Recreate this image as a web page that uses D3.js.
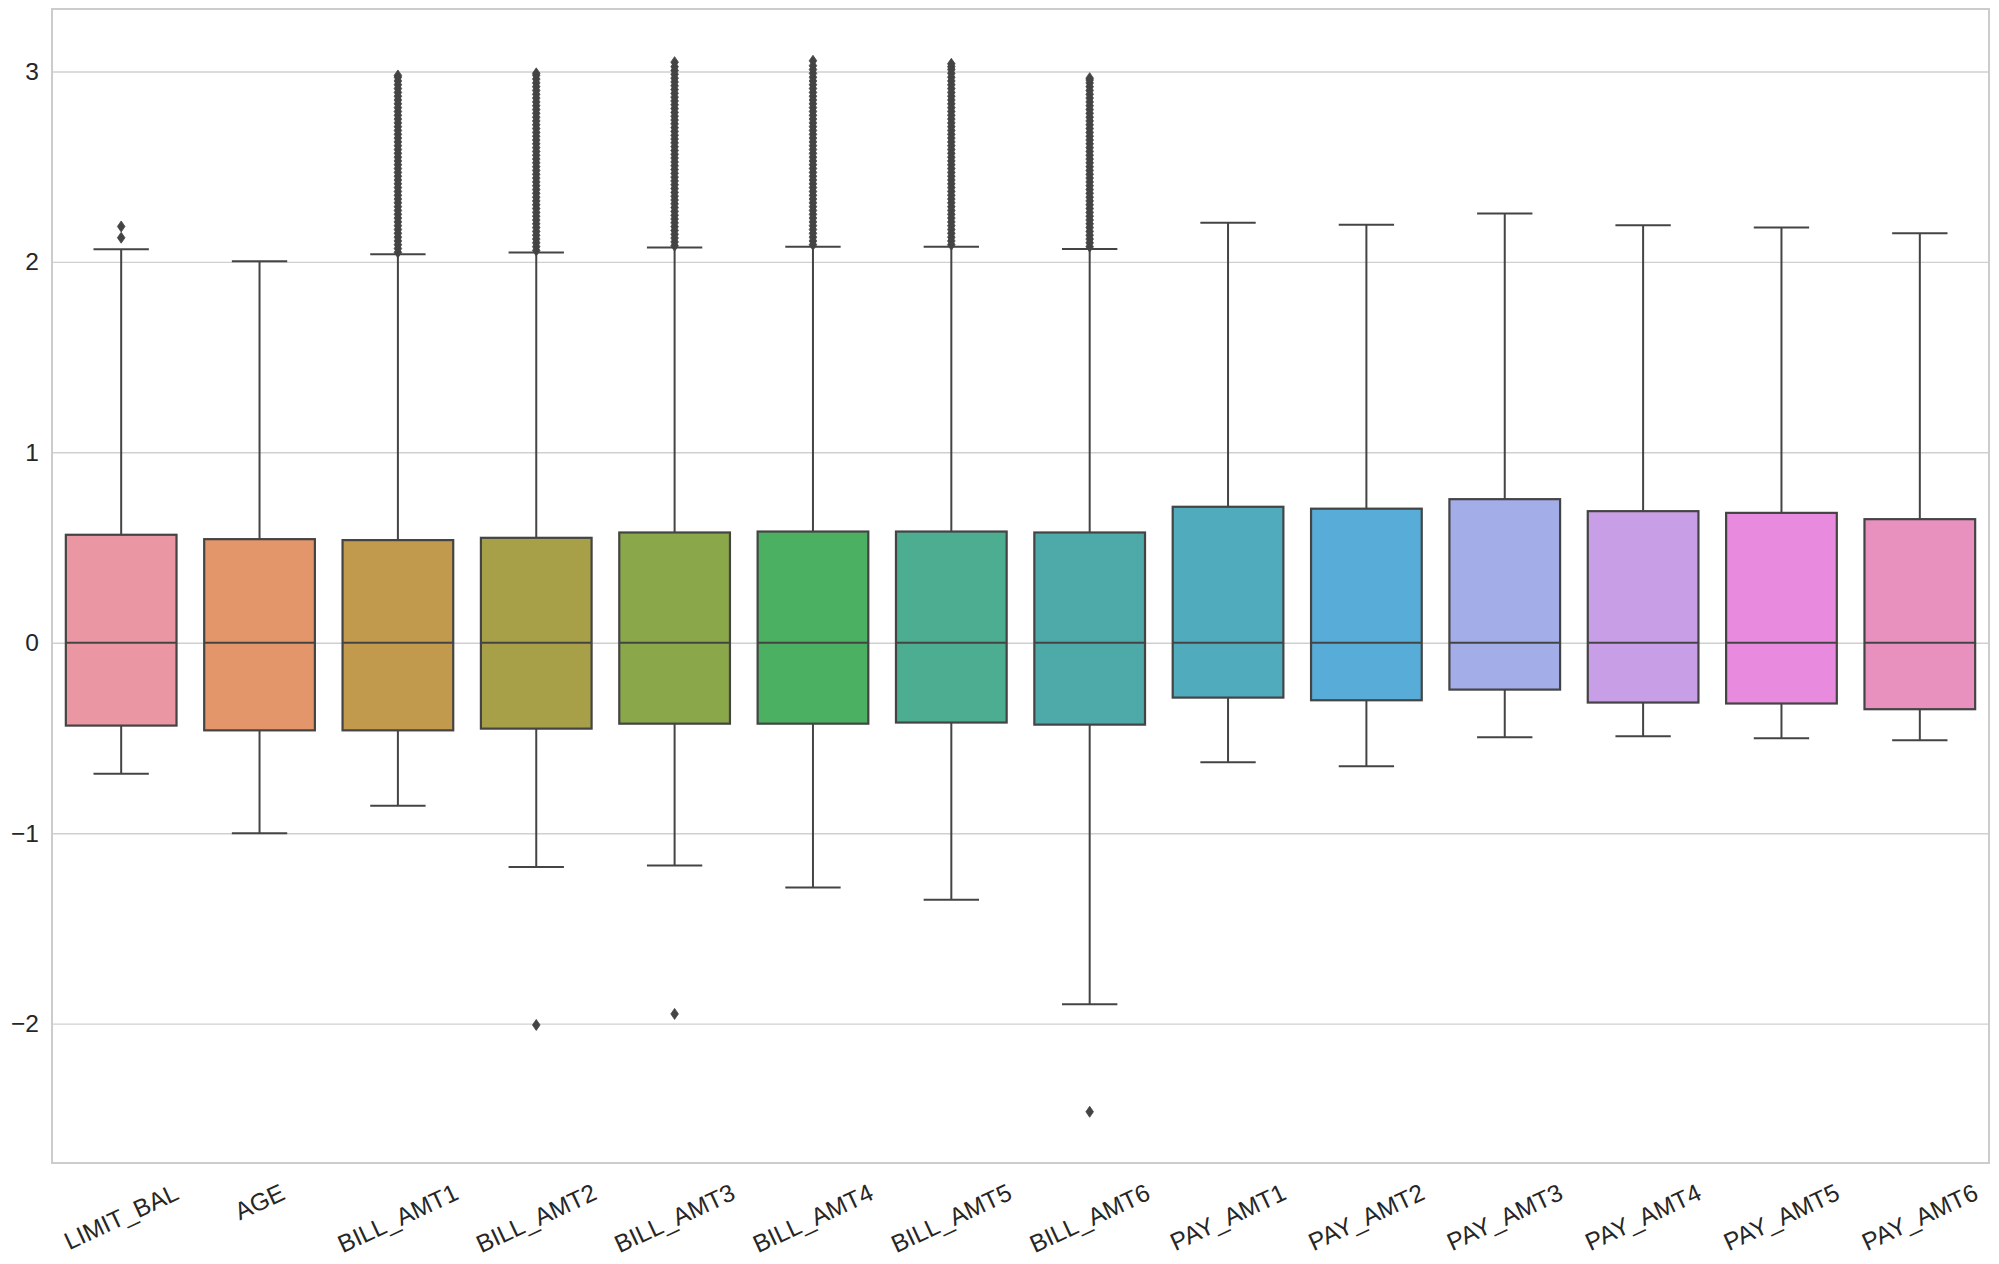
<!DOCTYPE html>
<html>
<head>
<meta charset="utf-8">
<script src="https://cdn.jsdelivr.net/npm/d3@7/dist/d3.min.js"></script>
<style>
  html, body { margin: 0; padding: 0; background: #ffffff; }
  svg { display: block; }
  text { font-family: "Liberation Sans", Arial, sans-serif; fill: #262626; }
</style>
</head>
<body>
<svg id="chart" width="1999" height="1264"></svg>
<script>
// ---------------- data ----------------
const categories = ["LIMIT_BAL", "AGE", "BILL_AMT1", "BILL_AMT2", "BILL_AMT3", "BILL_AMT4", "BILL_AMT5",
  "BILL_AMT6", "PAY_AMT1", "PAY_AMT2", "PAY_AMT3", "PAY_AMT4", "PAY_AMT5", "PAY_AMT6"];
const whiskerLow  = [-0.688, -1.000, -0.856, -1.177, -1.170, -1.285, -1.350, -1.899, -0.628, -0.649, -0.496, -0.491, -0.502, -0.512];
const q1          = [-0.435, -0.460, -0.460, -0.451, -0.425, -0.425, -0.419, -0.430, -0.288, -0.302, -0.246, -0.314, -0.319, -0.349];
const medians     = [0, 0, 0, 0, 0, 0, 0, 0, 0, 0, 0, 0, 0, 0];
const q3          = [0.567, 0.544, 0.539, 0.551, 0.579, 0.584, 0.584, 0.579, 0.714, 0.704, 0.754, 0.691, 0.682, 0.649];
const whiskerHigh = [2.066, 2.003, 2.040, 2.049, 2.075, 2.080, 2.080, 2.068, 2.206, 2.195, 2.254, 2.192, 2.181, 2.150];
const outliers = [
  [2.127, 2.186],
  [],
  [2.05, 2.07, 2.09, 2.11, 2.13, 2.15, 2.17, 2.19, 2.21, 2.23, 2.25, 2.27, 2.29, 2.31, 2.33, 2.35,
   2.37, 2.39, 2.41, 2.43, 2.45, 2.47, 2.49, 2.51, 2.53, 2.55, 2.57, 2.59, 2.61, 2.63, 2.65, 2.67,
   2.69, 2.71, 2.73, 2.75, 2.77, 2.79, 2.81, 2.83, 2.85, 2.87, 2.89, 2.91, 2.93, 2.95, 2.97, 2.979],
  [-2.007, 2.06, 2.08, 2.10, 2.12, 2.14, 2.16, 2.18, 2.20, 2.22, 2.24, 2.26, 2.28, 2.30, 2.32, 2.34,
   2.36, 2.38, 2.40, 2.42, 2.44, 2.46, 2.48, 2.50, 2.52, 2.54, 2.56, 2.58, 2.60, 2.62, 2.64, 2.66,
   2.68, 2.70, 2.72, 2.74, 2.76, 2.78, 2.80, 2.82, 2.84, 2.86, 2.88, 2.90, 2.92, 2.94, 2.96, 2.98, 2.99],
  [-1.949, 2.085, 2.105, 2.125, 2.145, 2.165, 2.185, 2.205, 2.225, 2.245, 2.265, 2.285, 2.305, 2.325,
   2.345, 2.365, 2.385, 2.405, 2.425, 2.445, 2.465, 2.485, 2.505, 2.525, 2.545, 2.565, 2.585, 2.605,
   2.625, 2.645, 2.665, 2.685, 2.705, 2.725, 2.745, 2.765, 2.785, 2.805, 2.825, 2.845, 2.865, 2.885,
   2.905, 2.925, 2.945, 2.965, 2.985, 3.005, 3.025, 3.049],
  [2.09, 2.11, 2.13, 2.15, 2.17, 2.19, 2.21, 2.23, 2.25, 2.27, 2.29, 2.31, 2.33, 2.35, 2.37, 2.39,
   2.41, 2.43, 2.45, 2.47, 2.49, 2.51, 2.53, 2.55, 2.57, 2.59, 2.61, 2.63, 2.65, 2.67, 2.69, 2.71,
   2.73, 2.75, 2.77, 2.79, 2.81, 2.83, 2.85, 2.87, 2.89, 2.91, 2.93, 2.95, 2.97, 2.99, 3.01, 3.03, 3.056],
  [2.09, 2.11, 2.13, 2.15, 2.17, 2.19, 2.21, 2.23, 2.25, 2.27, 2.29, 2.31, 2.33, 2.35, 2.37, 2.39,
   2.41, 2.43, 2.45, 2.47, 2.49, 2.51, 2.53, 2.55, 2.57, 2.59, 2.61, 2.63, 2.65, 2.67, 2.69, 2.71,
   2.73, 2.75, 2.77, 2.79, 2.81, 2.83, 2.85, 2.87, 2.89, 2.91, 2.93, 2.95, 2.97, 2.99, 3.01, 3.025, 3.04],
  [-2.463, 2.08, 2.10, 2.12, 2.14, 2.16, 2.18, 2.20, 2.22, 2.24, 2.26, 2.28, 2.30, 2.32, 2.34, 2.36,
   2.38, 2.40, 2.42, 2.44, 2.46, 2.48, 2.50, 2.52, 2.54, 2.56, 2.58, 2.60, 2.62, 2.64, 2.66, 2.68,
   2.70, 2.72, 2.74, 2.76, 2.78, 2.80, 2.82, 2.84, 2.86, 2.88, 2.90, 2.92, 2.94, 2.955, 2.965],
  [], [], [], [], [], []
];
const yTicks = [-2, -1, 0, 1, 2, 3];
const palette = ["#EA96A3", "#E4966B", "#C19A4D", "#A7A048", "#8AA74A", "#4BB062", "#4CAD91",
  "#4EAAA8", "#50ABBD", "#57ADD8", "#A3ADE8", "#C89FE6", "#E88BDF", "#E891BE"];

// ---------------- layout ----------------
const plot = { left: 52, right: 1989, top: 9, bottom: 1163 };
const lineColor = "#444444";
const gridColor = "#d0d0d0";
const fontSize = 24.5;
const angle = 25;

const svg = d3.select("#chart");

const x = d3.scaleBand().domain(categories).range([plot.left, plot.right]).paddingInner(0).paddingOuter(0);
const y = d3.scaleLinear().domain([-2.732, 3.328]).range([plot.bottom, plot.top]);

// grid
const yAxis = d3.axisLeft(y).tickValues(yTicks).tickSize(-(plot.right - plot.left)).tickPadding(13)
  .tickFormat(d => d < 0 ? "\u2212" + Math.abs(d) : String(d));
const gy = svg.append("g").attr("transform", `translate(${plot.left},0)`).call(yAxis);
gy.select(".domain").remove();
gy.selectAll(".tick line").attr("stroke", gridColor).attr("stroke-width", 1.4);
gy.selectAll(".tick text").attr("font-size", fontSize).style("font-family", '"Liberation Sans", Arial, sans-serif').attr("fill", "#262626");

// spines
svg.append("rect")
  .attr("x", plot.left).attr("y", plot.top)
  .attr("width", plot.right - plot.left).attr("height", plot.bottom - plot.top)
  .attr("fill", "none").attr("stroke", "#cccccc").attr("stroke-width", 2);

// boxes
const boxW = x.bandwidth() * 0.8;
const capW = boxW / 2;
const g = svg.append("g");

categories.forEach((c, i) => {
  const cx = x(c) + x.bandwidth() / 2;
  const gi = g.append("g");
  // whiskers
  gi.append("line").attr("x1", cx).attr("x2", cx).attr("y1", y(q3[i])).attr("y2", y(whiskerHigh[i]))
    .attr("stroke", lineColor).attr("stroke-width", 2);
  gi.append("line").attr("x1", cx).attr("x2", cx).attr("y1", y(q1[i])).attr("y2", y(whiskerLow[i]))
    .attr("stroke", lineColor).attr("stroke-width", 2);
  // caps
  gi.append("line").attr("x1", cx - capW / 2).attr("x2", cx + capW / 2).attr("y1", y(whiskerHigh[i])).attr("y2", y(whiskerHigh[i]))
    .attr("stroke", lineColor).attr("stroke-width", 2);
  gi.append("line").attr("x1", cx - capW / 2).attr("x2", cx + capW / 2).attr("y1", y(whiskerLow[i])).attr("y2", y(whiskerLow[i]))
    .attr("stroke", lineColor).attr("stroke-width", 2);
  // box
  gi.append("rect").attr("x", cx - boxW / 2).attr("width", boxW)
    .attr("y", y(q3[i])).attr("height", y(q1[i]) - y(q3[i]))
    .attr("fill", palette[i]).attr("stroke", lineColor).attr("stroke-width", 2.2);
  // median
  gi.append("line").attr("x1", cx - boxW / 2).attr("x2", cx + boxW / 2).attr("y1", y(medians[i])).attr("y2", y(medians[i]))
    .attr("stroke", lineColor).attr("stroke-width", 2.2);
  // fliers
  gi.selectAll("path.flier").data(outliers[i]).enter().append("path")
    .attr("class", "flier")
    .attr("d", d => {
      const py = y(d), hw = 3.8, hh = 5.5;
      return `M${cx},${py - hh}L${cx + hw},${py}L${cx},${py + hh}L${cx - hw},${py}Z`;
    })
    .attr("fill", lineColor).attr("stroke", lineColor).attr("stroke-width", 0.8);
});

// x tick labels, rotated 25 degrees, centred on tick, rotated bbox top just below the axis
const labelTop = 1182;
const rad = angle * Math.PI / 180;
const xl = svg.append("g");
categories.forEach((c) => {
  const cx = x(c) + x.bandwidth() / 2;
  const t = xl.append("text").text(c).attr("font-size", fontSize).attr("text-anchor", "middle")
    .attr("dominant-baseline", "central");
  const w = t.node().getComputedTextLength();
  const h = fontSize * 0.8;
  const half = (w * Math.sin(rad) + h * Math.cos(rad)) / 2;
  const cy = labelTop + half;
  t.attr("x", cx).attr("y", cy).attr("transform", `rotate(${-angle},${cx},${cy})`);
});
</script>
</body>
</html>
